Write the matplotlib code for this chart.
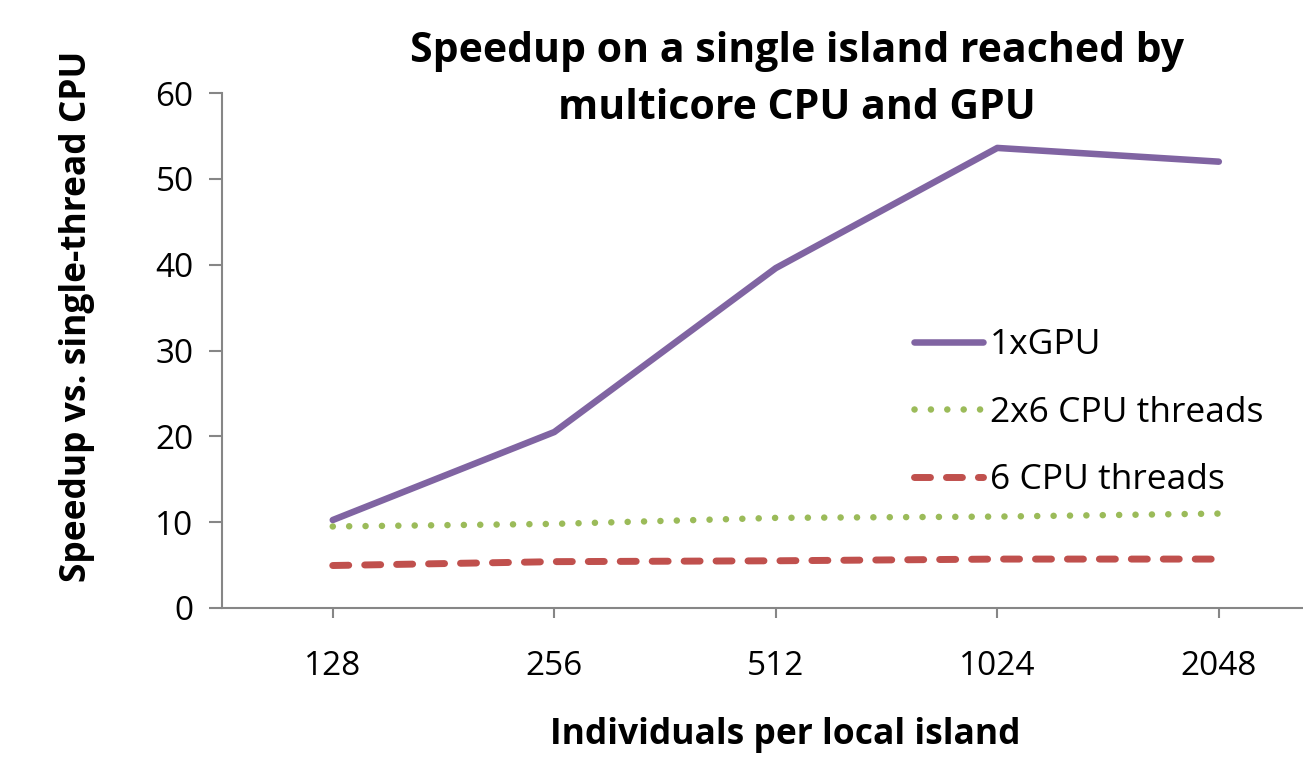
import matplotlib.pyplot as plt

plt.rcParams['font.family'] = ['Open Sans', 'DejaVu Sans']

categories = ['128', '256', '512', '1024', '2048']
gpu_1x = [10.25, 20.5, 39.6, 53.6, 52.0]
cpu_2x6 = [9.5, 9.8, 10.5, 10.65, 11.0]
cpu_6 = [4.95, 5.4, 5.5, 5.7, 5.7]

fig = plt.figure(figsize=(13.03, 7.59), dpi=100)
ax = fig.add_axes([222 / 1303, 1 - 608 / 759, 1 - 222 / 1303, (608 - 93) / 759])

x = range(len(categories))
ax.plot(x, gpu_1x, color='#8064A2', lw=4.7, solid_capstyle='round',
        solid_joinstyle='round', label='1xGPU')
ax.plot(x, cpu_2x6, color='#9BBB59', lw=4.7, linestyle=(0, (0.01, 2.5)),
        dash_capstyle='round', label='2x6 CPU threads')
ax.plot(x, cpu_6, color='#C0504D', lw=5.0, linestyle=(0, (2.3, 2.3)),
        dash_capstyle='round', label='6 CPU threads')

ax.set_xlim(-0.5, 4.38)
ax.set_ylim(0, 60)
ax.set_yticks(range(0, 61, 10))
ax.set_xticks(list(x))
ax.set_xticklabels(categories)

for s in ['top', 'right']:
    ax.spines[s].set_visible(False)
for s in ['left', 'bottom']:
    ax.spines[s].set_color('#868686')
    ax.spines[s].set_linewidth(1.5)
ax.tick_params(axis='y', direction='out', length=9.4, width=1.5, color='#868686',
               labelsize=24, pad=11)
ax.tick_params(axis='x', direction='out', length=7, width=1.5, color='#868686',
               labelsize=24, pad=23)

# y label: right edge near x=95 px, centred near y=316 px
ax.set_ylabel('Speedup vs. single-thread CPU', fontsize=25.5, fontweight='bold')
ax.yaxis.set_label_coords(-(222 - 95) / 1081, (608 - 316) / 515)
fig.text(785 / 1303, 1 - 735 / 759, 'Individuals per local island', fontsize=25.5,
         fontweight='bold', ha='center', va='center')
fig.text(797 / 1303, 1 - 80 / 759, 'Speedup on a single island reached by\nmulticore CPU and GPU',
         fontsize=29.5, fontweight='bold', ha='center', va='center', linespacing=1.5)

ax.legend(loc='upper left', bbox_to_anchor=((900 - 222) / 1081, 1 - (314 - 93) / 515),
          frameon=False, fontsize=25.5, handlelength=1.95, handletextpad=0.2,
          labelspacing=0.95, borderaxespad=0)

fig.savefig('out.png', dpi=100)
